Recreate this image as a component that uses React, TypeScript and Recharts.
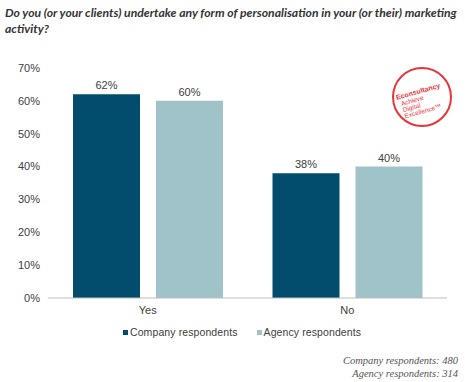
import { BarChart, Bar, XAxis, YAxis, LabelList } from 'recharts';

const categories = ['Yes', 'No'];
const companyValues = [62, 38];
const agencyValues = [60, 40];
const yTicks = [0, 10, 20, 30, 40, 50, 60, 70];

const COMPANY = '#024D6D';
const AGENCY = '#A0C3CA';

const data = categories.map((name, i) => ({
  name,
  company: companyValues[i],
  agency: agencyValues[i],
}));

const axisFont = { fontSize: 11, fill: '#404040', fontFamily: 'Liberation Sans, Arial, sans-serif' };

const Logo = () => (
  <svg width={70} height={70} style={{ position: 'absolute', left: 387, top: 62 }}>
    <circle cx={35} cy={35} r={29} fill="none" stroke="#E8343B" strokeWidth={2} />
    <g transform="rotate(-16 35 35)" fontFamily="Liberation Sans, Arial, sans-serif" fill="#E8343B">
      <text x={10} y={31} fontSize={7} fontWeight="bold">Econsultancy</text>
      <text x={13} y={38} fontSize={6.5}>Achieve</text>
      <text x={13} y={44.5} fontSize={6.5}>Digital</text>
      <text x={13} y={51} fontSize={6.5}>Excellence™</text>
    </g>
  </svg>
);

export default function App() {
  return (
    <div style={{ position: 'absolute', left: 0, top: 0, width: 465, height: 382, background: '#fff' }}>
      <div
        style={{
          position: 'absolute',
          left: 5,
          top: 5,
          width: 455,
          fontFamily: 'Lato, sans-serif',
          fontWeight: 'bold',
          fontStyle: 'italic',
          fontSize: 12.2,
          lineHeight: '16px',
          color: '#333',
        }}
      >
        Do you (or your clients) undertake any form of personalisation in your (or their) marketing activity?
      </div>
      <Logo />
      <div style={{ position: 'absolute', left: 0, top: 0 }}>
        <BarChart
          width={465}
          height={320}
          data={data}
          margin={{ top: 68, right: 18, left: 0, bottom: 0 }}
          barSize={67}
          barGap={16}
        >
          <XAxis
            dataKey="name"
            height={22}
            tickLine={false}
            axisLine={{ stroke: '#BDBDBD' }}
            tick={axisFont}
          />
          <YAxis
            width={48}
            domain={[0, 70]}
            ticks={yTicks}
            tickFormatter={(v: number) => `${v}%`}
            axisLine={false}
            tickLine={false}
            tick={axisFont}
          />
          <Bar dataKey="company" fill={COMPANY} isAnimationActive={false}>
            <LabelList dataKey="company" position="top" formatter={(v: number) => `${v}%`} style={axisFont} />
          </Bar>
          <Bar dataKey="agency" fill={AGENCY} isAnimationActive={false}>
            <LabelList dataKey="agency" position="top" formatter={(v: number) => `${v}%`} style={axisFont} />
          </Bar>
        </BarChart>
      </div>
      <div
        style={{
          position: 'absolute',
          left: 123,
          top: 325,
          height: 14,
          display: 'flex',
          alignItems: 'center',
          fontFamily: 'Liberation Sans, Arial, sans-serif',
          fontSize: 10.5,
          letterSpacing: 0.1,
          color: '#404040',
        }}
      >
        <span style={{ width: 5, height: 5, background: COMPANY, marginRight: 2 }} />
        <span style={{ marginRight: 19 }}>Company respondents</span>
        <span style={{ width: 5, height: 5, background: AGENCY, marginRight: 2 }} />
        <span>Agency respondents</span>
      </div>
      <div
        style={{
          position: 'absolute',
          right: 7,
          top: 354,
          textAlign: 'right',
          fontFamily: 'Liberation Serif, serif',
          fontStyle: 'italic',
          fontSize: 10.5,
          lineHeight: '13px',
          color: '#555',
        }}
      >
        <div>Company respondents: 480</div>
        <div>Agency respondents: 314</div>
      </div>
    </div>
  );
}
